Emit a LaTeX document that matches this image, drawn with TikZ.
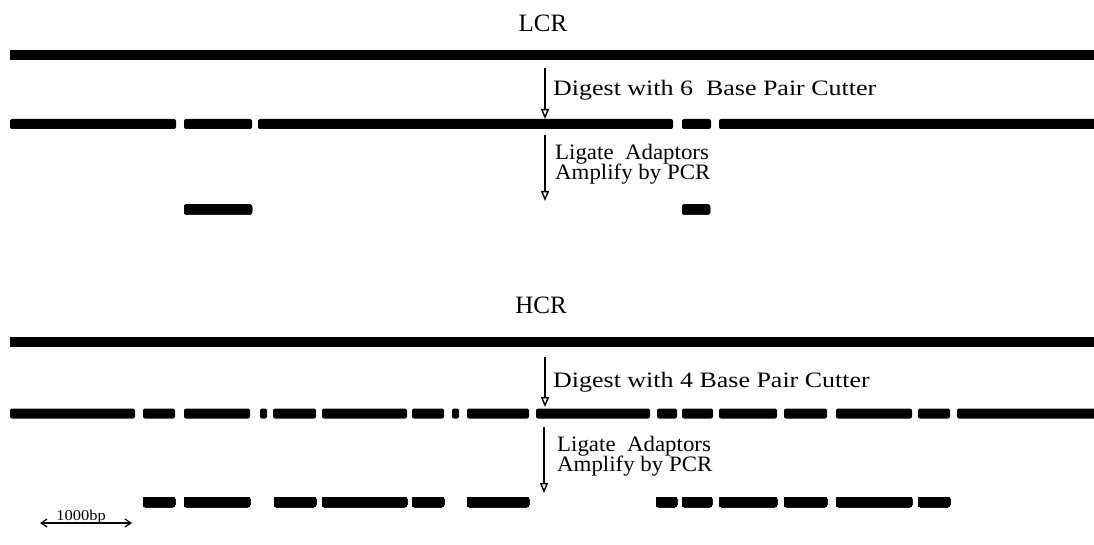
\documentclass[tikz,border=0pt]{standalone}
\usepackage{fontspec}
\setmainfont{Liberation Serif}
\newfontfamily\digestfont[FakeStretch=1.18]{Liberation Serif}
\newfontfamily\ligatefont[FakeStretch=1.04]{Liberation Serif}
\newfontfamily\barfont[FakeStretch=1.1]{Liberation Serif}
\usetikzlibrary{arrows.meta}
\newcommand\dnaseg[3]{\fill[seg] (#2,#1-5) rectangle (#3,#1+5);}
\begin{document}
\begin{tikzpicture}[x=1pt,y=-1pt,
  seg/.style={fill=black, rounded corners=2pt},
  steparrow/.style={line width=1.6pt, -{Triangle[open, length=10pt, width=8pt, line width=1.4pt]}},
  digesttext/.style={font=\digestfont\fontsize{22}{18}\selectfont, inner sep=0pt, anchor=base west},
  steptext/.style={font=\ligatefont\fontsize{22}{18}\selectfont, inner sep=0pt, anchor=base west},
  titletext/.style={font=\fontsize{25}{30}\selectfont, inner sep=0pt, anchor=base},
  scaletext/.style={font=\barfont\fontsize{15}{16}\selectfont, inner sep=0pt, anchor=base}]
\useasboundingbox (0,0) rectangle (1094,545);
% ---------- LCR ----------
\node[titletext] (lcr) at (543,32) {LCR};
\fill (10,50) rectangle (1094,60);
\foreach \a/\b in {10/176,184/252,258/673,682/711,719/1096}
  \dnaseg{124}{\a}{\b}
\foreach \a/\b in {184/252,682/710}
  \dnaseg{209.5}{\a}{\b}
\coordinate (a1s) at (545,68);
\coordinate (a1e) at (545,119);
\draw[steparrow] (a1s) -- (a1e);
\node[digesttext] (d1) at (553,96) {Digest with 6\ \ Base Pair Cutter};
\coordinate (a2s) at (545,135);
\coordinate (a2e) at (545,201);
\draw[steparrow] (a2s) -- (a2e);
\node[steptext] (l1) at (555,160) {Ligate\ \ Adaptors};
\node[steptext] (p1) at (555,180) {Amplify by PCR};
% ---------- HCR ----------
\node[titletext] (hcr) at (541,313) {HCR};
\fill (10,337) rectangle (1094,347);
\foreach \a/\b in {10/135,143/175,184/250,260/267,273/316,322/407,412/444,452/459,467/529,536/650,657/677,682/713,719/777,784/827,836/912,918/950,957/1096}
  \dnaseg{413.5}{\a}{\b}
\foreach \a/\b in {143/175,184/250,274/316,322/407,412/444,467/529,656/677,682/712,719/777,784/827,836/912,918/950}
  \dnaseg{502}{\a}{\b}
\coordinate (a3s) at (545,357);
\coordinate (a3e) at (545,407);
\draw[steparrow] (a3s) -- (a3e);
\node[digesttext] (d2) at (553,387) {Digest with 4 Base Pair Cutter};
\coordinate (a4s) at (544,427);
\coordinate (a4e) at (544,493);
\draw[steparrow] (a4s) -- (a4e);
\node[steptext] (l2) at (557,451) {Ligate\ \ Adaptors};
\node[steptext] (p2) at (557,471) {Amplify by PCR};
% ---------- scale bar ----------
\coordinate (sl) at (40,523);
\coordinate (sr) at (132,523);
\draw[line width=1.2pt, {Straight Barb[length=6pt,width=8pt]}-{Straight Barb[length=6pt,width=8pt]}] (sl) -- (sr);
\node[scaletext] (scl) at (81,520) {1000bp};
\end{tikzpicture}
\end{document}
